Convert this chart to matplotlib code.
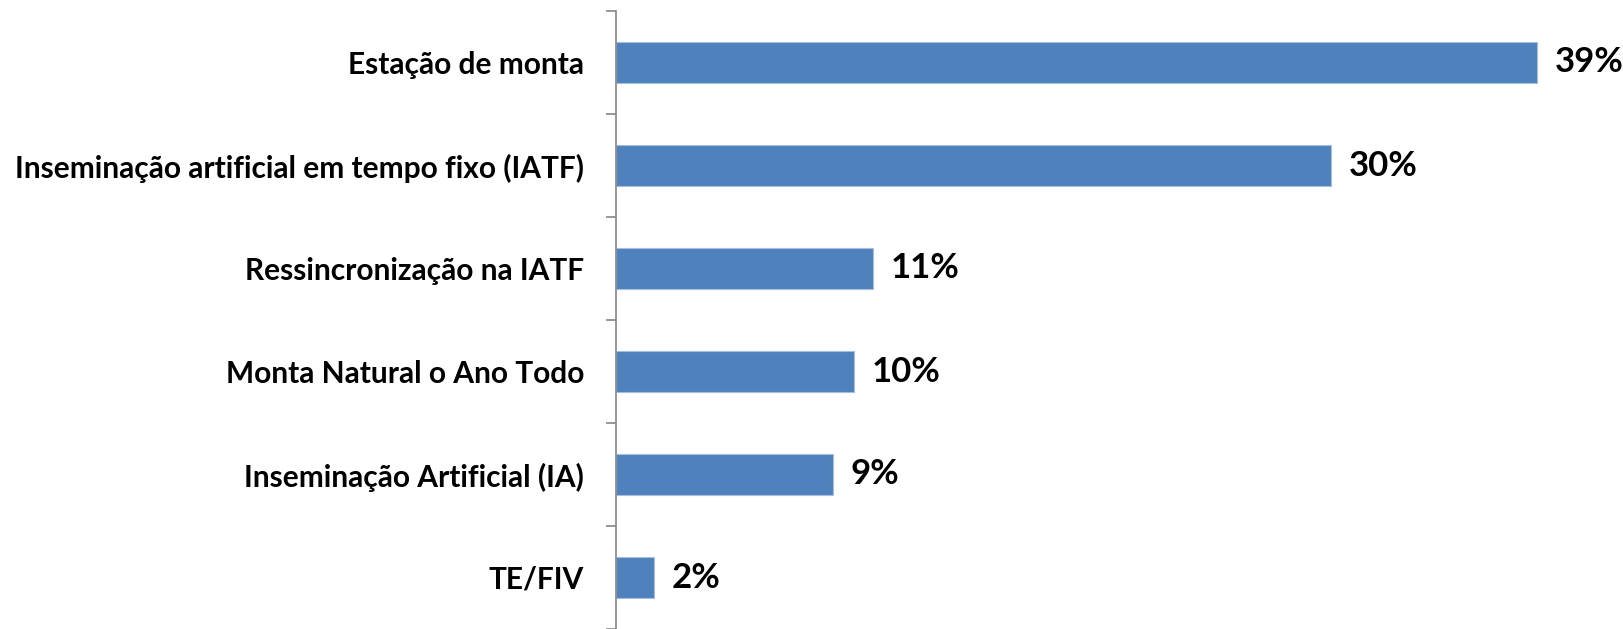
import numpy as np
import matplotlib.pyplot as plt

categorias = ["Estação de monta",
              "Inseminação artificial em tempo fixo (IATF)",
              "Ressincronização na IATF",
              "Monta Natural o Ano Todo",
              "Inseminação Artificial (IA)",
              "TE/FIV"]
valores = [39.0, 30.3, 10.9, 10.1, 9.2, 1.6]
rotulos = ["39%", "30%", "11%", "10%", "9%", "2%"]

plt.rcParams['font.family'] = ['Lato', 'DejaVu Sans']

fig = plt.figure(figsize=(16.24, 6.29), dpi=100)
ax = fig.add_axes([616/1624, 0.0, 1 - 616/1624, 1 - 11/629])

y = np.arange(len(categorias))
ax.barh(y, valores, height=0.4, color='#4F81BD', edgecolor='#A7BFDE', linewidth=0.8)

for yi, v, r in zip(y, valores, rotulos):
    ax.text(v + 0.75, yi, r, va='center', ha='left', fontsize=25, fontweight='bold')

ax.set_xlim(0, 42.7)
ax.set_ylim(len(categorias) - 0.5, -0.5)

ax.set_yticks(y)
ax.set_yticklabels(categorias, fontsize=21.5, fontweight='bold')
ax.tick_params(axis='y', which='major', length=0, pad=23)
ax.set_yticks(np.arange(-0.5, len(categorias)), minor=True)
ax.tick_params(axis='y', which='minor', length=7, width=1.2, color='#868686', direction='out')

ax.set_xticks([])
for s in ['top', 'right', 'bottom']:
    ax.spines[s].set_visible(False)
ax.spines['left'].set_color('#868686')
ax.spines['left'].set_linewidth(1.2)

fig.savefig('out.png', dpi=100)
